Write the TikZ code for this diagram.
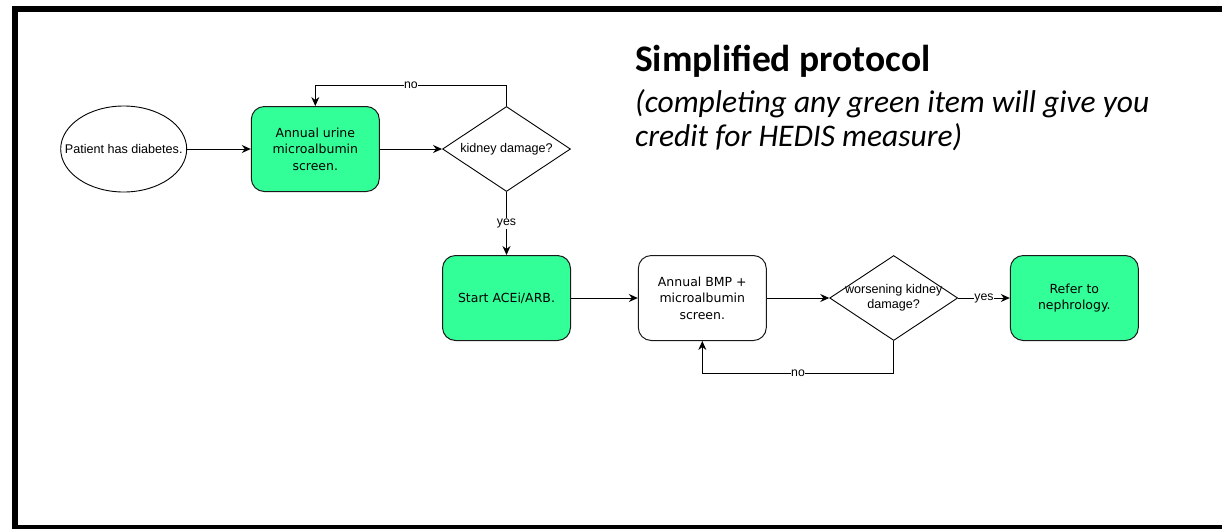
\documentclass[tikz,border=0pt]{standalone}
\usepackage{fontspec}
\setmainfont{Liberation Sans}
\newfontfamily\verdanafont{DejaVu Sans}
\newfontfamily\titlefont{Carlito}
\usetikzlibrary{shapes.geometric,arrows.meta}
\definecolor{stepgreen}{HTML}{33FF99}

\begin{document}
\begin{tikzpicture}[x=1pt,y=-1pt,
	flow/.style={-{Stealth[length=9pt,width=8pt,inset=3pt]},line width=0.9pt},
	stepbox/.style={draw=black!90,line width=1pt,rounded corners=13pt,minimum width=128pt,minimum height=85pt,align=center,font=\verdanafont\fontsize{12.5}{16.6}\selectfont},
	greenstep/.style={stepbox,fill=stepgreen},
	decision/.style={diamond,draw,line width=0.9pt,inner sep=0pt,minimum width=128pt,minimum height=85pt},
	dtext/.style={align=center,font=\fontsize{12.6}{15}\selectfont},
	lbl/.style={fill=white,inner sep=0.5pt,font=\fontsize{12.3}{13}\selectfont}]
	% Define the page and the frame (open on the right)
	\useasboundingbox (0,0) rectangle (1222,528);
	\clip (0,0) rectangle (1222,528);
	\draw[line width=6pt] (1240,8.5) -- (14.5,8.5) -- (14.5,528) -- (1240,528);
	% Add the title
	\node[anchor=base west,inner sep=0pt,font=\titlefont\bfseries\fontsize{37.5}{40}\selectfont] (title) at (635,71.5) {Simplified protocol};
	\node[anchor=base west,inner sep=0pt,font=\titlefont\itshape\fontsize{31.5}{34}\selectfont] (note1) at (635,112) {(completing any green item will give you};
	\node[anchor=base west,inner sep=0pt,font=\titlefont\itshape\fontsize{31.5}{34}\selectfont] (note2) at (635,146.5) {credit for HEDIS measure)};
	% Create the first row
	\node[ellipse,draw,line width=0.9pt,minimum width=126pt,minimum height=86pt,inner sep=0pt,label={[dtext]center:Patient has diabetes.}] (patient) at (123.7,149) {};
	\node[greenstep] (urine) at (315.3,149) {Annual urine\\microalbumin\\screen.};
	\node[decision,label={[dtext]center:kidney damage?}] (kidney) at (506.5,149) {};
	% Create the second row
	\node[greenstep] (acei) at (506.5,298) {Start ACEi/ARB.};
	\node[stepbox] (bmp) at (702.3,298) {Annual BMP +\\microalbumin\\screen.};
	\node[decision,label={[dtext]center:worsening kidney\\damage?}] (worse) at (893.7,298) {};
	\node[greenstep] (refer) at (1074.3,298) {Refer to\\nephrology.};
	% Connect the steps
	\draw[flow] (patient) -- (urine);
	\draw[flow] (urine) -- (kidney);
	\draw[flow] (kidney.north) -- ++(0,-21) -| node[lbl,pos=0.25] {no} (urine.north);
	\draw[flow] (kidney) -- node[lbl] {yes} (acei);
	\draw[flow] (acei) -- (bmp);
	\draw[flow] (bmp) -- (worse);
	\draw[flow] (worse) -- node[lbl] {yes} (refer);
	\draw[flow] (worse.south) -- ++(0,32) -| node[lbl,pos=0.25] {no} (bmp.south);
\end{tikzpicture}
\end{document}
